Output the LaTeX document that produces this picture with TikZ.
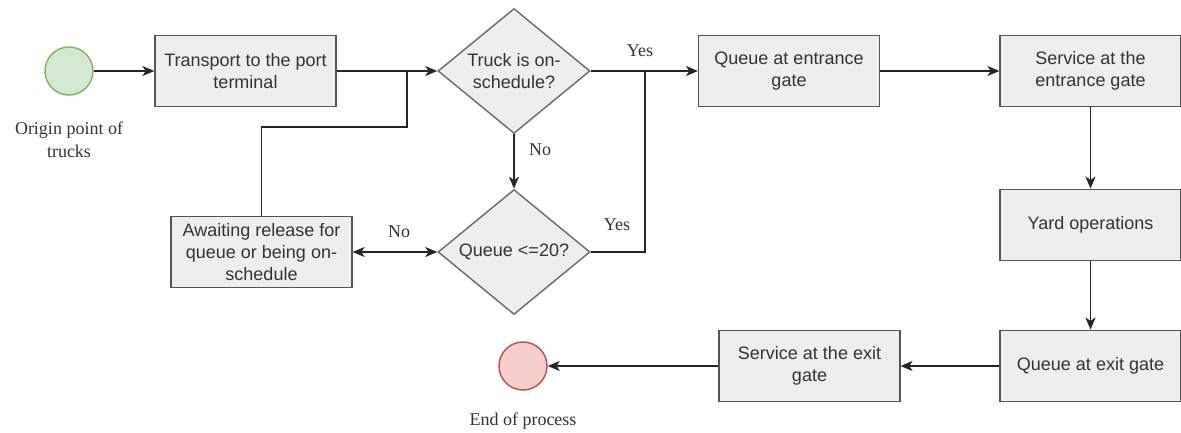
\documentclass[tikz,border=0pt]{standalone}
\usepackage{fontspec}
\setmainfont{Liberation Serif}
\newfontfamily\boxfont{Liberation Sans}
\usetikzlibrary{shapes.geometric,arrows.meta}
\definecolor{boxfill}{HTML}{EEEEEE}
\definecolor{boxline}{HTML}{555555}
\definecolor{txt}{HTML}{333333}
\definecolor{startfill}{HTML}{D5E8D4}
\definecolor{startline}{HTML}{82B366}
\definecolor{endfill}{HTML}{F8CECC}
\definecolor{endline}{HTML}{B85450}
\tikzset{
  stepbox/.style={draw=boxline, fill=boxfill, line width=1.1pt, text=txt,
    minimum width=135.5pt, minimum height=53.5pt, inner sep=2pt,
    align=center, font=\boxfont\fontsize{13.5}{16.5}\selectfont},
  decision/.style={diamond, draw=boxline!85, fill=boxfill, line width=1.1pt, text=txt,
    minimum width=114pt, minimum height=93.75pt, inner sep=0pt, aspect=1.216,
    align=center, font=\boxfont\fontsize{13.5}{16.5}\selectfont},
  terminal/.style={circle, line width=1.1pt, minimum size=36pt, inner sep=0pt},
  caption/.style={align=center, text=txt, font=\fontsize{13.5}{17}\selectfont},
  flow/.style={line width=1.1pt, draw=black!85},
  arrow/.style={flow, -{Stealth[length=9pt,width=7.5pt,inset=2.5pt]}},
  twoway/.style={flow, {Stealth[length=9pt,width=7.5pt,inset=2.5pt]}-{Stealth[length=9pt,width=7.5pt,inset=2.5pt]}},
}
\begin{document}
\begin{tikzpicture}[x=0.75pt, y=-0.75pt]
\useasboundingbox (0,0) rectangle (1181,432);

% start and end markers
\node[terminal, draw=startline, fill=startfill] (start) at (69,71) {};
\node[caption] (startlbl) at (69,140) {Origin point of\\trucks};
\node[terminal, draw=endline, fill=endfill] (finish) at (523,366) {};
\node[caption] (finishlbl) at (523,421) {End of process};

% process steps
\node[stepbox] (transport) at (245.5,71) {Transport to the port\\terminal};
\node[stepbox] (await) at (261.5,252) {Awaiting release for\\queue or being on-\\schedule};
\node[stepbox] (qin) at (789,71) {Queue at entrance\\gate};
\node[stepbox] (sin) at (1090.5,71) {Service at the\\entrance gate};
\node[stepbox] (yard) at (1090.5,225) {Yard operations};
\node[stepbox] (qout) at (1090.5,366) {Queue at exit gate};
\node[stepbox] (sout) at (809.5,366) {Service at the exit\\gate};

% decisions
\node[decision] (d1) at (514,71) {Truck is on-\\schedule?};
\node[decision] (d2) at (514,252) {Queue <=20?};

% junction points where return lines join the main flow
\coordinate (j1) at (407,71);
\coordinate (j1low) at (407,127);
\coordinate (j2) at (645,71);

% connectors
\draw[arrow] (start) -- (transport);
\draw[arrow] (transport.east) -- (d1.west);
\draw[flow] (await.north) |- (j1low) -- (j1);
\draw[arrow] (d1.south) -- (d2.north);
\draw[twoway] (await.east) -- (d2.west);
\draw[arrow] (d1.east) -- (qin.west);
\draw[flow] (d2.east) -| (j2);
\draw[arrow] (qin) -- (sin);
\draw[arrow] (sin) -- (yard);
\draw[arrow] (yard) -- (qout);
\draw[arrow] (qout) -- (sout);
\draw[arrow] (sout) -- (finish);

% branch labels
\node[caption] (yes1) at (640,51) {Yes};
\node[caption] (no1) at (540,150) {No};
\node[caption] (no2) at (399,232) {No};
\node[caption] (yes2) at (617,225) {Yes};
\end{tikzpicture}
\end{document}
